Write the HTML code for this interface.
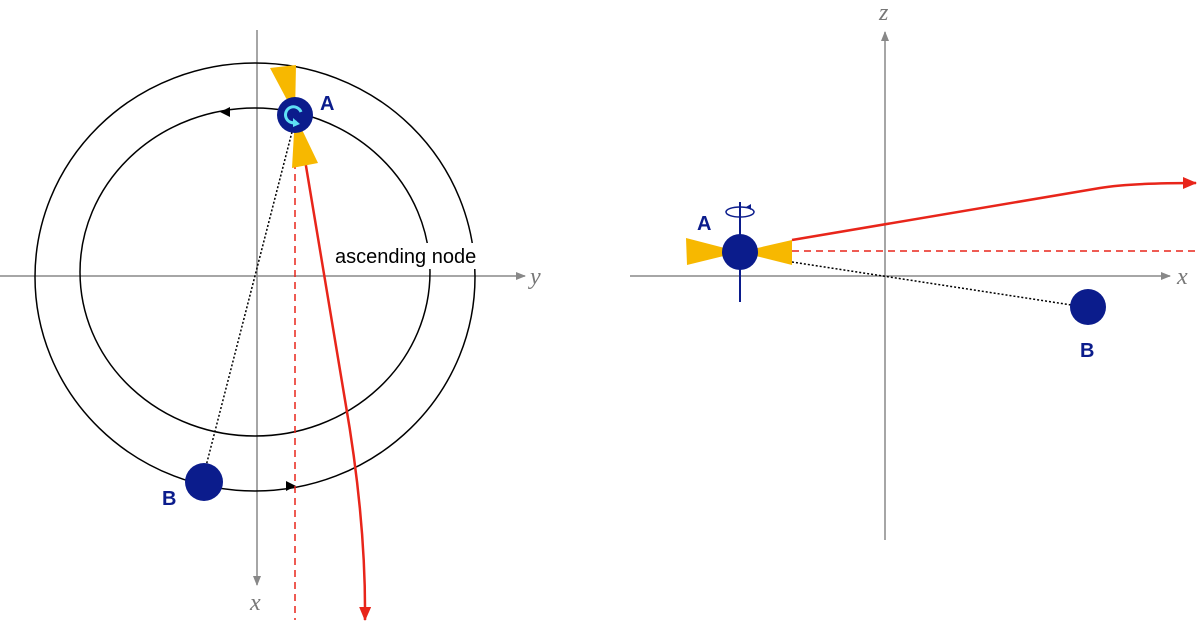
<!DOCTYPE html>
<html><head><style>html,body{margin:0;padding:0;background:#fff}svg{display:block}</style></head><body>
<svg width="1200" height="625" viewBox="0 0 1200 625" xmlns="http://www.w3.org/2000/svg">
<defs>
<marker id="ag" markerWidth="10" markerHeight="8" refX="9" refY="4" orient="auto" markerUnits="userSpaceOnUse"><path d="M0,0 L10,4 L0,8 Z" fill="#888"/></marker>
<marker id="ar" markerWidth="14" markerHeight="12" refX="13" refY="6" orient="auto" markerUnits="userSpaceOnUse"><path d="M0,0 L14,6 L0,12 Z" fill="#e8251a"/></marker>
</defs>
<g font-family="Liberation Sans, sans-serif">
<!-- LEFT -->
<line x1="0" y1="276" x2="525" y2="276" stroke="#888" stroke-width="1.5" marker-end="url(#ag)"/>
<line x1="257" y1="30" x2="257" y2="585" stroke="#888" stroke-width="1.5" marker-end="url(#ag)"/>
<text x="530" y="284" font-family="Liberation Serif, serif" font-style="italic" font-size="24" fill="#777">y</text>
<text x="250" y="610" font-family="Liberation Serif, serif" font-style="italic" font-size="24" fill="#777">x</text>
<ellipse cx="255" cy="277" rx="220" ry="214" fill="none" stroke="#000" stroke-width="1.5"/>
<ellipse cx="255" cy="272" rx="175" ry="164" fill="none" stroke="#000" stroke-width="1.5"/>
<path d="M220,112 l10,-5 l0,10 z" fill="#000"/>
<path d="M296,486 l-10,-5 l0,10 z" fill="#000"/>
<rect x="333" y="243" width="178" height="26" fill="#fff"/>
<text x="335" y="263" font-size="20" fill="#000">ascending node</text>
<line x1="295" y1="150" x2="295" y2="620" stroke="#e8251a" stroke-width="1.5" stroke-dasharray="7,5"/>
<path d="M305,160 L345,400 Q366,520 365,620" fill="none" stroke="#e8251a" stroke-width="2.5" marker-end="url(#ar)"/>
<line x1="292" y1="132" x2="205" y2="470" stroke="#000" stroke-width="1.5" stroke-dasharray="2,2"/>
<polygon points="295,115 270,68 296,65" fill="#f7b800"/>
<polygon points="295,115 292,168 318,163" fill="#f7b800"/>
<circle cx="295" cy="115" r="18" fill="#0b1c8c"/>
<path d="M301,112 A8,8 0 1 0 297,122" fill="none" stroke="#5fe0f5" stroke-width="3"/>
<path d="M293,118 l7,6 l-7,3 z" fill="#5fe0f5"/>
<text x="320" y="110" font-size="20" font-weight="bold" fill="#0b1c8c">A</text>
<circle cx="204" cy="482" r="19" fill="#0b1c8c"/>
<text x="162" y="505" font-size="20" font-weight="bold" fill="#0b1c8c">B</text>
<!-- RIGHT -->
<line x1="630" y1="276" x2="1170" y2="276" stroke="#888" stroke-width="1.5" marker-end="url(#ag)"/>
<line x1="885" y1="540" x2="885" y2="32" stroke="#888" stroke-width="1.5" marker-end="url(#ag)"/>
<text x="1177" y="284" font-family="Liberation Serif, serif" font-style="italic" font-size="24" fill="#777">x</text>
<text x="879" y="20" font-family="Liberation Serif, serif" font-style="italic" font-size="24" fill="#777">z</text>
<line x1="792" y1="251" x2="1200" y2="251" stroke="#e8251a" stroke-width="1.5" stroke-dasharray="7,5"/>
<path d="M792,240 L1100,188 Q1130,183 1196,183" fill="none" stroke="#e8251a" stroke-width="2.5" marker-end="url(#ar)"/>
<line x1="792" y1="262" x2="1078" y2="306" stroke="#000" stroke-width="1.5" stroke-dasharray="2,2"/>
<line x1="740" y1="202" x2="740" y2="302" stroke="#0b1c8c" stroke-width="2"/>
<ellipse cx="740" cy="212" rx="14" ry="5" fill="none" stroke="#0b1c8c" stroke-width="1.5"/>
<path d="M746,207 l5,-3 l0,6 z" fill="#0b1c8c"/>
<polygon points="740,252 686,238 687,265" fill="#f7b800"/>
<polygon points="740,252 792,240 792,265" fill="#f7b800"/>
<circle cx="740" cy="252" r="18" fill="#0b1c8c"/>
<text x="697" y="230" font-size="20" font-weight="bold" fill="#0b1c8c">A</text>
<circle cx="1088" cy="307" r="18" fill="#0b1c8c"/>
<text x="1080" y="357" font-size="20" font-weight="bold" fill="#0b1c8c">B</text>
</g>
</svg>
</body></html>
